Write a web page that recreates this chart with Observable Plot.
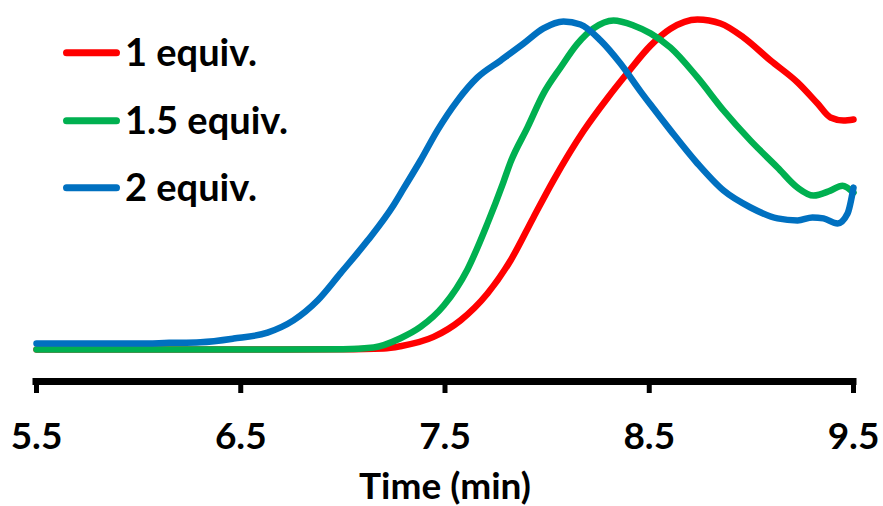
<!DOCTYPE html>
<html>
<head>
<meta charset="utf-8">
<script src="https://cdn.jsdelivr.net/npm/d3@7"></script>
<script src="https://cdn.jsdelivr.net/npm/@observablehq/plot@0.6"></script>
<style>
  html, body { margin: 0; padding: 0; background: #fff; }
  #wrap { position: relative; width: 883px; height: 506px; }
  #legend { position: absolute; left: 0; top: 0; pointer-events: none; }
</style>
</head>
<body>
<div id="wrap"></div>
<script>
// ---- data ----
const series = ["1 equiv.", "1.5 equiv.", "2 equiv."];
const colors = ["#FF0000", "#00B050", "#0070C0"];
const xTicks = [5.5, 6.5, 7.5, 8.5, 9.5];
const xLabel = "Time (min)";

const redT = [5.5, 6.0, 6.5, 7.0, 7.2, 7.282, 7.444, 7.576, 7.708, 7.821, 7.933, 8.031, 8.178, 8.296, 8.394, 8.506, 8.604, 8.736, 8.849, 8.961, 9.094, 9.226, 9.324, 9.387, 9.451, 9.5];
const redY = [0, 0, 0, 0.05, 0.3, 1.0, 3.8, 8.8, 16.9, 26.9, 39.9, 51.1, 66.0, 76.0, 83.6, 91.8, 96.9, 99.7, 98.5, 94.3, 87.3, 80.7, 74.3, 70.1, 69.2, 69.5];

const greenT = [5.5, 6.0, 6.5, 7.0, 7.15, 7.282, 7.38, 7.493, 7.61, 7.708, 7.786, 7.821, 7.904, 7.982, 8.066, 8.149, 8.227, 8.325, 8.423, 8.506, 8.604, 8.736, 8.864, 8.996, 9.128, 9.226, 9.304, 9.387, 9.446, 9.5];
const greenY = [0, 0, 0, 0.1, 0.6, 3.4, 6.8, 13.2, 24.2, 38.1, 50.6, 56.6, 67.1, 77.3, 85.2, 92.4, 97.0, 99.4, 97.9, 95.5, 91.2, 82.2, 72.2, 63.1, 55.0, 48.9, 46.5, 48.0, 49.5, 47.4];

const blueT = [5.5, 6.0, 6.15, 6.303, 6.465, 6.631, 6.758, 6.876, 6.988, 7.121, 7.248, 7.297, 7.38, 7.463, 7.561, 7.659, 7.772, 7.884, 7.982, 8.08, 8.163, 8.261, 8.359, 8.457, 8.506, 8.604, 8.736, 8.864, 8.996, 9.128, 9.226, 9.299, 9.353, 9.422, 9.471, 9.5];
const blueY = [1.8, 1.8, 2.0, 2.2, 3.3, 5.1, 8.8, 14.8, 23.0, 32.9, 43.6, 48.6, 57.1, 66.2, 75.2, 82.2, 87.3, 92.4, 97.0, 99.1, 98.2, 93.4, 86.4, 78.0, 74.0, 66.2, 56.2, 48.0, 42.9, 39.6, 39.0, 39.9, 39.6, 38.1, 41.1, 48.9];

// ---- build table ----
const seriesT = [redT, greenT, blueT];
const seriesY = [redY, greenY, blueY];
const rows = [];
series.forEach((s, i) => {
  seriesT[i].forEach((t, j) => rows.push({series: s, t, v: seriesY[i][j]}));
});

const W = 883, H = 506;
const yMin = -9.67, yMax = 100;
const font = "Lato, 'Open Sans', sans-serif";

const chart = Plot.plot({
  width: W,
  height: H,
  marginLeft: 36,
  marginRight: 30,
  marginTop: 18,
  marginBottom: 125,
  style: {fontFamily: font, color: "#000", background: "#fff", overflow: "visible"},
  x: {domain: [5.5, 9.5]},
  y: {domain: [yMin, yMax], axis: null},
  color: {domain: series, range: colors},
  marks: [
    Plot.line(rows, {x: "t", y: "v", z: "series", stroke: "series", strokeWidth: 6.5, curve: "monotone-x"}),
    Plot.ruleY([yMin], {strokeWidth: 7, stroke: "#000", strokeLinecap: "square"}),
    Plot.axisX({
      ticks: xTicks,
      tickSize: 12,
      tickPadding: 29,
      tickFormat: d => d.toFixed(1),
      fontSize: 37,
      fontWeight: "bold",
      strokeWidth: 5,
      label: null
    }),
    Plot.text([xLabel], {frameAnchor: "bottom", lineAnchor: "middle", dy: 106, fontSize: 37, fontWeight: "bold", fill: "#000"})
  ]
});

const wrap = document.getElementById("wrap");
wrap.appendChild(chart);

// ---- legend overlay ----
const legendY = [52.7, 120.7, 187.7];
const leg = d3.create("svg").attr("id", "legend").attr("width", 400).attr("height", 220);
series.forEach((s, i) => {
  leg.append("line")
    .attr("x1", 66.5).attr("x2", 116.5)
    .attr("y1", legendY[i]).attr("y2", legendY[i])
    .attr("stroke", colors[i]).attr("stroke-width", 7).attr("stroke-linecap", "round");
  leg.append("text")
    .attr("x", 125).attr("y", legendY[i] + 13.5)
    .attr("font-family", font).attr("font-weight", "bold").attr("font-size", 38)
    .attr("fill", "#000")
    .text(s);
});
wrap.appendChild(leg.node());
</script>
</body>
</html>
